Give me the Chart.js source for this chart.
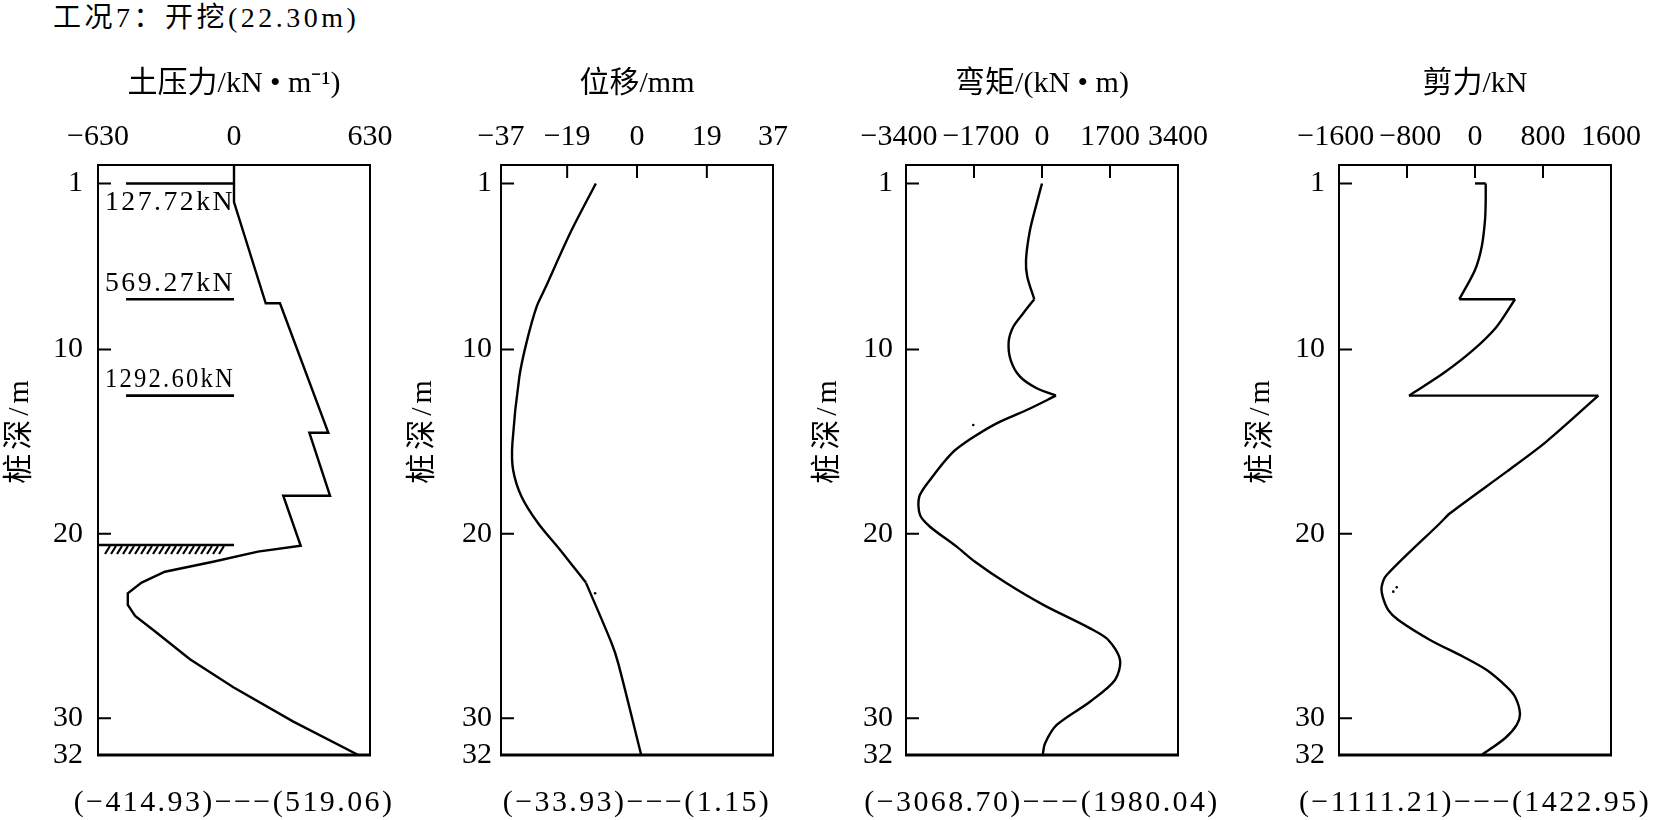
<!DOCTYPE html>
<html lang="zh-CN">
<head>
<meta charset="UTF-8">
<title>工况7：开挖(22.30m)</title>
<style>
    body {
        margin: 0;
        padding: 0;
        width: 1674px;
        height: 820px;
        background: #fff;
        position: relative;
        overflow: hidden;
    }
    #caseTitle {
        position: absolute;
        left: 53px;
        top: 2px;
        font: 28px/32px "Liberation Serif", "Noto Sans CJK SC", serif;
        letter-spacing: 3.5px;
        color: #000;
        white-space: nowrap;
    }
    canvas {
        position: absolute;
        top: 0;
    }
</style>
</head>
<body>
<div id="caseTitle">工况7：开挖(22.30m)</div>
<script src="https://cdn.jsdelivr.net/npm/chart.js"></script>
<script>
    // depth axis (shared)
    const depthTicks = [1, 10, 20, 30, 32];

    // 土压力 kN/m
    const pressureDepth = [0, 2.01, 7.50, 7.50, 14.52, 14.52, 17.94, 17.94, 20.65, 20.97, 21.52, 22.06, 22.65, 23.23, 23.86, 24.46, 25.22, 26.81, 28.33, 30.19, 32];
    const pressureValue = [0, 0, 147, 213, 437, 349, 445, 228, 309, 111, -97, -320, -428, -492, -492, -458, -374, -204, -3, 275, 576];
    const pressureTicks = [-630, 0, 630];
    const strutDepth = [1, 7.28, 12.51];
    const strutForce = ['127.72kN', '569.27kN', '1292.60kN'];
    const groundDepth = 20.61;

    // 位移 mm
    const dispDepth = [1, 3.70, 6.69, 7.68, 9.58, 11.48, 15.09, 16.54, 17.99, 19.43, 20.88, 22.65, 25.94, 27.03, 32];
    const dispValue = [-11.2, -18.2, -25.0, -27.3, -30.0, -32.0, -33.9, -33.7, -31.4, -26.9, -20.9, -13.9, -6.9, -5.1, 1.15];
    const dispKinks = [22.65];
    const dispTicks = [-37, -19, 0, 19, 37];
    const dispDotDepth = [23.23];
    const dispDotValue = [-11.4];

    // 弯矩 kN·m
    const momentDepth = [1, 2.08, 3.53, 5.15, 6.06, 7.28, 8.04, 8.77, 9.58, 10.58, 11.48, 12.11, 12.51, 13.29, 14.01, 14.88, 15.64, 17.08, 17.99, 18.98, 19.62, 20.70, 21.52, 22.69, 23.86, 25.13, 25.76, 26.85, 27.93, 29.11, 30.37, 31.37, 32];
    const momentValue = [0, -133, -300, -400, -368, -193, -468, -718, -833, -783, -550, -133, 350, -383, -1133, -1800, -2258, -2800, -3068, -3050, -2800, -2133, -1675, -883, 33, 1200, 1658, 1950, 1825, 1200, 368, 75, 18];
    const momentKinks = [7.28, 12.51];
    const momentTicks = [-3400, -1700, 0, 1700, 3400];
    const momentDotDepth = [14.10];
    const momentDotValue = [-1718];

    // 剪力 kN
    const shearDepth = [1, 1, 1.90, 2.98, 4.43, 5.69, 7.28, 7.28, 8.77, 10.03, 11.30, 12.51, 12.51, 15.00, 16.63, 18.89, 19.43, 22.24, 22.87, 23.41, 24.14, 24.68, 25.76, 26.67, 27.39, 28.30, 28.84, 29.74, 30.37, 31.09, 32];
    const shearValue = [0, 126, 126, 118, 79, 0, -185, 471, 255, -20, -373, -776, 1451, 840, 373, -294, -412, -1039, -1098, -1086, -1020, -902, -529, -138, 138, 373, 471, 529, 491, 353, 79];
    const shearKinks = [1, 7.28, 12.51];
    const shearTicks = [-1600, -800, 0, 800, 1600];
    const shearDotDepth = [23.14, 22.90];
    const shearDotValue = [-961, -921];

    // min / max printed under each panel
    const rangeMin = [-414.93, -33.93, -3068.70, -1111.21];
    const rangeMax = [519.06, 1.15, 1980.04, 1422.95];
    const panelTitles = ['土压力/kN • m⁻¹)', '位移/mm', '弯矩/(kN • m)', '剪力/kN'];

    const FONT = '"Liberation Serif", "Noto Sans CJK SC", serif';
    const frameLeft = [98, 501, 906, 1339];
    const yLabelPad = [15, 9, 13, 14];

    function fmt(v) {
        return v < 0 ? '\u2212' + (-v) : String(v);
    }
    function fmt2(v) {
        return v < 0 ? '\u2212' + (-v).toFixed(2) : v.toFixed(2);
    }
    function toPoints(depth, value) {
        return depth.map((d, i) => ({ x: value[i], y: d }));
    }
    // split a profile at its kink depths so smoothing never rounds the corners
    function pieces(depth, value, kinks) {
        const out = [];
        let cur = [{ x: value[0], y: depth[0] }];
        for (let i = 1; i < depth.length; i++) {
            const p = { x: value[i], y: depth[i] };
            cur.push(p);
            if (kinks.includes(depth[i]) && i < depth.length - 1) {
                out.push(cur);
                cur = [p];
            }
        }
        if (cur.length > 1) out.push(cur);
        return out;
    }
    function lineSet(points, tension, width) {
        return {
            data: points, showLine: true, borderColor: '#000', borderWidth: width || 2.4,
            pointRadius: 0, tension: tension, fill: false
        };
    }
    function dotSet(depth, value) {
        return {
            data: toPoints(depth, value), showLine: false, pointRadius: 1.3,
            backgroundColor: '#000', borderWidth: 0
        };
    }

    const profilePlugin = {
        id: 'profile',
        afterDraw(chart, args, o) {
            const ctx = chart.ctx, a = chart.chartArea;
            const xs = chart.scales.x, ys = chart.scales.y;
            ctx.save();
            ctx.strokeStyle = '#000';
            ctx.fillStyle = '#000';

            // frame
            ctx.lineWidth = 2;
            ctx.strokeRect(a.left, a.top, a.right - a.left, a.bottom - a.top);
            ctx.lineWidth = 3;
            ctx.beginPath();
            ctx.moveTo(a.left - 1, a.bottom);
            ctx.lineTo(a.right + 1, a.bottom);
            ctx.stroke();

            // ticks point inward
            ctx.lineWidth = 2;
            ctx.beginPath();
            xs.ticks.forEach(t => {
                if (t.value > xs.min && t.value < xs.max) {
                    const p = xs.getPixelForValue(t.value);
                    ctx.moveTo(p, a.top);
                    ctx.lineTo(p, a.top + 13);
                }
            });
            ys.ticks.forEach(t => {
                if (t.value > ys.min && t.value < ys.max) {
                    const p = ys.getPixelForValue(t.value);
                    ctx.moveTo(a.left, p);
                    ctx.lineTo(a.left + 13, p);
                }
            });
            ctx.stroke();

            // top tick labels, nudged apart when they would collide
            ctx.font = '30px ' + FONT;
            ctx.textAlign = 'center';
            ctx.textBaseline = 'middle';
            const labs = xs.ticks.map(t => {
                const s = fmt(t.value);
                return { s: s, w: ctx.measureText(s).width, c: xs.getPixelForValue(t.value) };
            });
            for (let i = 1; i < labs.length; i++) {
                const gap = (labs[i].c - labs[i].w / 2) - (labs[i - 1].c + labs[i - 1].w / 2);
                if (gap < 5) {
                    const d = (5 - gap) / 2;
                    labs[i].c += d;
                    labs[i - 1].c -= d;
                }
            }
            labs.forEach(l => ctx.fillText(l.s, l.c, a.top - 28));

            // depth title
            ctx.save();
            ctx.translate(a.left - 78, 430);
            ctx.rotate(-Math.PI / 2);
            ctx.letterSpacing = '4px';
            ctx.fillText('桩深/m', 0, 0);
            ctx.restore();

            // min---max line under the frame
            ctx.save();
            ctx.letterSpacing = '2.4px';
            ctx.fillText(o.range, (a.left + a.right) / 2, 803);
            ctx.restore();

            if (o.struts) {
                ctx.save();
                ctx.font = '28px ' + FONT;
                ctx.textAlign = 'right';
                ctx.letterSpacing = '2.5px';
                const x0 = xs.getPixelForValue(0);
                strutDepth.forEach((d, i) => {
                    const y = ys.getPixelForValue(d) + (i === 0 ? 19 : -16);
                    ctx.fillText(strutForce[i], x0 + 1, y, 130);
                });
                ctx.restore();
            }
            if (o.ground) {
                const gy = ys.getPixelForValue(groundDepth);
                const xEnd = xs.getPixelForValue(0) - 12;
                ctx.lineWidth = 2.2;
                ctx.beginPath();
                for (let x = a.left + 7; x <= xEnd; x += 6) {
                    ctx.moveTo(x, gy + 9);
                    ctx.lineTo(x + 5, gy + 1);
                }
                ctx.stroke();
            }
            ctx.restore();
        }
    };

    function makePanel(i, datasets, ticks, extra) {
        const canvas = document.createElement('canvas');
        canvas.width = 415;
        canvas.height = 820;
        canvas.style.left = (frameLeft[i] - 98) + 'px';
        document.body.appendChild(canvas);
        const lim = ticks[ticks.length - 1];
        new Chart(canvas, {
            type: 'scatter',
            data: { datasets: datasets },
            options: {
                responsive: false,
                animation: false,
                devicePixelRatio: 1,
                events: [],
                layout: { padding: { left: 0, right: 45, top: 0, bottom: 0 } },
                plugins: {
                    legend: { display: false },
                    tooltip: { enabled: false },
                    title: {
                        display: true,
                        position: 'bottom',
                        text: '',
                        font: { size: 30 },
                        padding: { top: 29, bottom: 0 }
                    },
                    profile: Object.assign({ range: '(' + fmt2(rangeMin[i]) + ')\u2212\u2212\u2212(' + fmt2(rangeMax[i]) + ')' }, extra)
                },
                scales: {
                    x: {
                        type: 'linear',
                        position: 'top',
                        min: -lim,
                        max: lim,
                        afterBuildTicks: s => { s.ticks = ticks.map(v => ({ value: v })); },
                        afterFit: s => { s.height = 165; },
                        grid: { display: false, drawTicks: false },
                        border: { display: false },
                        ticks: { display: false },
                        title: {
                            display: true,
                            text: panelTitles[i],
                            color: '#000',
                            font: { family: FONT, size: 30 },
                            padding: { top: 66, bottom: 0 }
                        }
                    },
                    y: {
                        type: 'linear',
                        reverse: true,
                        min: 0,
                        max: 32,
                        afterBuildTicks: s => { s.ticks = depthTicks.map(v => ({ value: v })); },
                        afterFit: s => { s.width = 98; },
                        grid: { display: false, drawTicks: false },
                        border: { display: false },
                        ticks: {
                            autoSkip: false,
                            color: '#000',
                            padding: yLabelPad[i],
                            font: { family: FONT, size: 30 }
                        }
                    }
                }
            },
            plugins: [profilePlugin]
        });
    }

    // 土压力
    const p1Sets = [lineSet(toPoints(pressureDepth, pressureValue), 0)];
    strutDepth.forEach(d => p1Sets.push(lineSet([{ x: -500, y: d }, { x: 0, y: d }], 0, 2.6)));
    p1Sets.push(lineSet([{ x: -630, y: groundDepth }, { x: 0, y: groundDepth }], 0, 2.6));
    makePanel(0, p1Sets, pressureTicks, { struts: true, ground: true });

    // 位移
    const p2Sets = pieces(dispDepth, dispValue, dispKinks).map(p => lineSet(p, 0.3));
    p2Sets.push(dotSet(dispDotDepth, dispDotValue));
    makePanel(1, p2Sets, dispTicks, {});

    // 弯矩
    const p3Sets = pieces(momentDepth, momentValue, momentKinks).map(p => lineSet(p, 0.3));
    p3Sets.push(dotSet(momentDotDepth, momentDotValue));
    makePanel(2, p3Sets, momentTicks, {});

    // 剪力
    const p4Sets = pieces(shearDepth, shearValue, shearKinks).map(p => lineSet(p, 0.3));
    p4Sets.push(dotSet(shearDotDepth, shearDotValue));
    makePanel(3, p4Sets, shearTicks, {});
</script>
</body>
</html>
